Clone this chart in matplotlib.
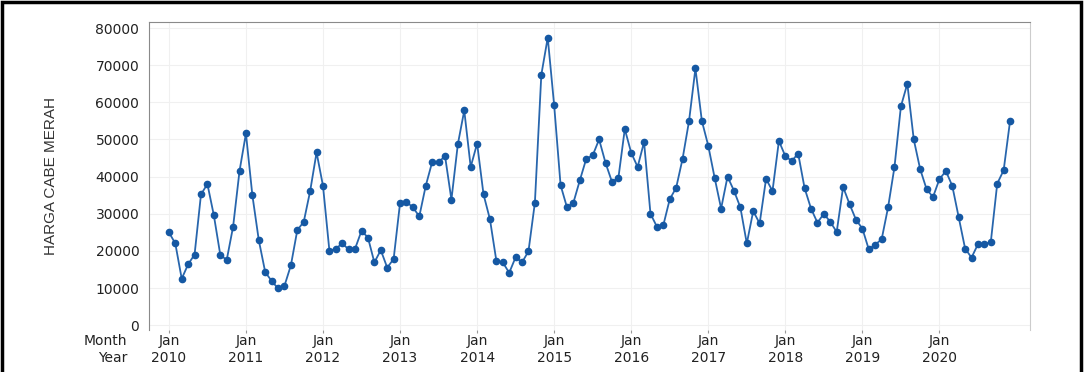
import numpy as np
import matplotlib
matplotlib.use("Agg")
import matplotlib.pyplot as plt
import matplotlib.transforms as mtransforms
from matplotlib.patches import Rectangle

# monthly price of red chili, Jan 2010 - Dec 2020
y2010 = [25000, 22000, 12500, 16400, 19000, 35200, 38000, 29600, 19000, 17500, 26500, 41500]
y2011 = [51600, 35000, 22900, 14300, 11900, 9900, 10600, 16100, 25600, 27800, 36100, 46500]
y2012 = [37500, 20000, 20600, 22000, 20400, 20600, 25400, 23600, 16900, 20200, 15500, 17800]
y2013 = [32900, 33200, 31700, 29300, 37500, 43900, 43800, 45600, 33800, 48700, 57800, 42600]
y2014 = [48900, 35200, 28500, 17300, 16900, 14100, 18300, 16900, 19900, 33000, 67400, 77400]
y2015 = [59200, 37700, 31700, 33000, 39000, 44800, 45700, 50000, 43700, 38600, 39600, 52800]
y2016 = [46400, 42600, 49300, 30000, 26500, 26900, 33900, 37000, 44800, 54900, 69100, 55000]
y2017 = [48300, 39600, 31400, 40000, 36200, 31700, 22000, 30700, 27400, 39400, 36100, 49600]
y2018 = [45500, 44200, 46200, 36900, 31400, 27600, 30000, 27800, 25100, 37200, 32600, 28400]
y2019 = [26000, 20400, 21700, 23100, 31700, 42600, 58900, 65000, 50000, 42000, 36600, 34500]
y2020 = [39300, 41500, 37500, 29100, 20600, 18200, 21800, 21800, 22400, 38100, 41700, 55000]

years = [2010, 2011, 2012, 2013, 2014, 2015, 2016, 2017, 2018, 2019, 2020]
harga = y2010 + y2011 + y2012 + y2013 + y2014 + y2015 + y2016 + y2017 + y2018 + y2019 + y2020
bulan = np.arange(len(harga))

fig = plt.figure(figsize=(10.89, 3.72), dpi=100)
ax = fig.add_axes([0.1368, 0.1129, 0.8090, 0.8288])

ax.plot(bulan, harga, color="#2866ad", lw=1.3, marker="o", ms=4.5,
        markerfacecolor="#1558a3", markeredgecolor="#1558a3")

ax.set_xlim(-3.1, 134.1)
ax.set_ylim(-1300, 81700)
ax.set_yticks(range(0, 80001, 10000))
ax.set_yticklabels([str(v) for v in range(0, 80001, 10000)], fontsize=10, color="#222222")
ax.set_xticks([12 * i for i in range(len(years))])
ax.set_xticklabels([])
ax.tick_params(axis="y", length=0, pad=7)
ax.tick_params(axis="x", length=2, color="#999999")
ax.grid(True, color="#f0f0f0", lw=0.8)
ax.set_axisbelow(True)

for side in ["left", "top"]:
    ax.spines[side].set_color("#8a8a8a")
ax.spines["right"].set_color("#cccccc")
ax.spines["bottom"].set_visible(False)

ax.set_ylabel("HARGA CABE MERAH", fontsize=11, color="#333333",
              family=["Liberation Sans Narrow", "Liberation Sans", "DejaVu Sans"])
ax.yaxis.set_label_coords(-0.103, 0.5)

# two-row date axis: Month / Year
trans = mtransforms.blended_transform_factory(ax.transData, fig.transFigure)
for i, yr in enumerate(years):
    ax.text(12 * i, 1 - 341 / 372, "Jan", transform=trans, ha="center", va="center",
            fontsize=10, color="#222222")
    ax.text(12 * i, 1 - 358 / 372, str(yr), transform=trans, ha="center", va="center",
            fontsize=10, color="#222222")
fig.text(127 / 1089, 1 - 341 / 372, "Month", ha="right", va="center", fontsize=10, color="#222222")
fig.text(127 / 1089, 1 - 358 / 372, "Year", ha="right", va="center", fontsize=10, color="#222222")

# outer frame
fig.patches.append(Rectangle((1.5 / 1089, -0.05), 1079 / 1089, 1.05 - 1.5 / 372,
                             transform=fig.transFigure, fill=False, edgecolor="black", lw=2.5))

fig.savefig("out.png", dpi=100)
